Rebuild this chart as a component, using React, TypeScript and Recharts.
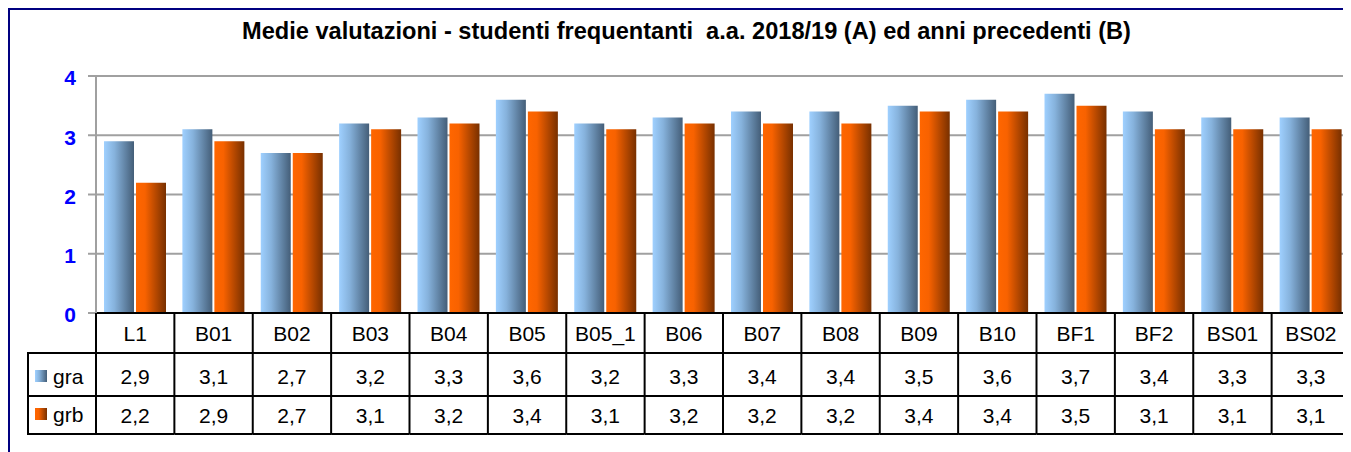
import React from "react"
import { BarChart, Bar, XAxis, YAxis, CartesianGrid, Legend } from "recharts"

const categories = ["L1", "B01", "B02", "B03", "B04", "B05", "B05_1", "B06", "B07", "B08", "B09", "B10", "BF1", "BF2", "BS01", "BS02"]
const graValues = [2.9, 3.1, 2.7, 3.2, 3.3, 3.6, 3.2, 3.3, 3.4, 3.4, 3.5, 3.6, 3.7, 3.4, 3.3, 3.3]
const grbValues = [2.2, 2.9, 2.7, 3.1, 3.2, 3.4, 3.1, 3.2, 3.2, 3.2, 3.4, 3.4, 3.5, 3.1, 3.1, 3.1]
const yTicks = [0, 1, 2, 3, 4]
const seriesNames = ["gra", "grb"]
const title = "Medie valutazioni - studenti frequentanti  a.a. 2018/19 (A) ed anni precedenti (B)"

const data = categories.map((cat, i) => ({ cat, gra: graValues[i], grb: grbValues[i] }))

const FONT = '"Liberation Sans", Arial, sans-serif'
const CHART_W = 1345
const CHART_H = 442
const MARGIN = { top: 66, right: 5, left: 0, bottom: 18 }
const Y_W = 86
const PLOT_W = CHART_W - MARGIN.left - MARGIN.right - Y_W
const BAND = PLOT_W / categories.length

// table row offsets below the x axis
const ROW1 = 40
const ROW2 = 83
const ROW3 = 121
const PLOT_H = CHART_H - MARGIN.top - MARGIN.bottom - ROW3
const TABLE_FONT = 21

const fmt = (v: number) => v.toFixed(1).replace(".", ",")

function TableTick(props: any) {
  const { x, y, payload, index } = props
  const i = typeof index === "number" ? index : categories.indexOf(payload.value)
  const left = x - BAND / 2
  const right = x + BAND / 2
  const line = { stroke: "#000", strokeWidth: 2 }
  const txt = {
    fontSize: TABLE_FONT,
    fontWeight: "normal" as const,
    fill: "#000",
    stroke: "none",
    textAnchor: "middle" as const,
    dominantBaseline: "central" as const,
  }
  return (
    <g>
      {i === 0 && <line x1={left} x2={left} y1={y} y2={y + ROW3} {...line} />}
      <line x1={right} x2={right} y1={y} y2={y + ROW3} {...line} />
      <line x1={left} x2={right} y1={y + ROW1} y2={y + ROW1} {...line} />
      <line x1={left} x2={right} y1={y + ROW2} y2={y + ROW2} {...line} />
      <line x1={left} x2={right} y1={y + ROW3} y2={y + ROW3} {...line} />
      <text x={x} y={y + 20} {...txt}>{payload.value}</text>
      <text x={x} y={y + 63} {...txt}>{fmt(graValues[i])}</text>
      <text x={x} y={y + 102} {...txt}>{fmt(grbValues[i])}</text>
    </g>
  )
}

function GradientDefs({ prefix }: { prefix: string }) {
  return (
    <defs>
      <linearGradient id={`${prefix}A`} x1="0" y1="0" x2="1" y2="0">
        <stop offset="0%" stopColor="#9fd0ff" />
        <stop offset="35%" stopColor="#86b2dc" />
        <stop offset="100%" stopColor="#445e78" />
      </linearGradient>
      <linearGradient id={`${prefix}B`} x1="0" y1="0" x2="1" y2="0">
        <stop offset="0%" stopColor="#ff6600" />
        <stop offset="30%" stopColor="#f86200" />
        <stop offset="100%" stopColor="#783000" />
      </linearGradient>
    </defs>
  )
}

function TableLegend() {
  const w = 69
  const h = ROW3 - ROW1
  const line = { stroke: "#000", strokeWidth: 2 }
  return (
    <svg width={w + 2} height={h + 2} style={{ display: "block" }}>
      <GradientDefs prefix="lg" />
      <line x1={1} x2={w + 1} y1={1} y2={1} {...line} />
      <line x1={1} x2={w + 1} y1={ROW2 - ROW1 + 1} y2={ROW2 - ROW1 + 1} {...line} />
      <line x1={1} x2={w + 1} y1={h + 1} y2={h + 1} {...line} />
      <line x1={1} x2={1} y1={0} y2={h + 2} {...line} />
      {seriesNames.map((name, k) => {
        const cy = k === 0 ? 24 : 62
        return (
          <g key={name}>
            <rect x={8} y={cy - 6} width={12} height={12} fill={`url(#lg${k === 0 ? "A" : "B"})`} />
            <text x={26} y={cy} fontSize={TABLE_FONT} fill="#000" dominantBaseline="central" fontFamily={FONT}>{name}</text>
          </g>
        )
      })}
    </svg>
  )
}

export default function App() {
  return (
    <div style={{ position: "relative", width: 1343, height: 444, overflow: "hidden", fontFamily: FONT }}>
      <div style={{ position: "absolute", left: 0, top: 0, width: 1420, height: 470, border: "2px solid #000080", boxSizing: "border-box" }} />
      <div style={{ position: "absolute", left: 0, top: 9, width: 1357, textAlign: "center", fontSize: 23.6, fontWeight: "bold", lineHeight: "28px", color: "#000", whiteSpace: "pre" }}>
        {title}
      </div>
      <div style={{ position: "absolute", left: 2, top: 2 }}>
        <BarChart width={CHART_W} height={CHART_H} data={data} margin={MARGIN} barCategoryGap={8} barGap={2}>
          <GradientDefs prefix="bar" />
          <CartesianGrid vertical={false} stroke="#a0a0a0" strokeWidth={2} />
          <XAxis
            dataKey="cat"
            height={ROW3}
            interval={0}
            tickLine={false}
            tickSize={0}
            tickMargin={0}
            axisLine={{ stroke: "#000", strokeWidth: 2 }}
            tick={(p: any) => <TableTick {...p} />}
          />
          <YAxis
            width={Y_W}
            domain={[0, 4]}
            ticks={yTicks}
            interval={0}
            tickSize={8}
            tickMargin={12}
            tickLine={{ stroke: "#a0a0a0", strokeWidth: 2 }}
            axisLine={{ stroke: "#a0a0a0", strokeWidth: 2 }}
            tick={{ fill: "#0000ff", fontSize: 21, fontWeight: "bold", dy: 2 }}
          />
          <Legend
            layout="horizontal"
            verticalAlign="middle"
            align="center"
            wrapperStyle={{ position: "absolute", left: 17, top: MARGIN.top + PLOT_H + ROW1 - 1, width: 71, margin: 0 }}
            content={() => <TableLegend />}
          />
          <Bar dataKey="gra" name="gra" fill="url(#barA)" isAnimationActive={false} />
          <Bar dataKey="grb" name="grb" fill="url(#barB)" isAnimationActive={false} />
        </BarChart>
      </div>
    </div>
  )
}
